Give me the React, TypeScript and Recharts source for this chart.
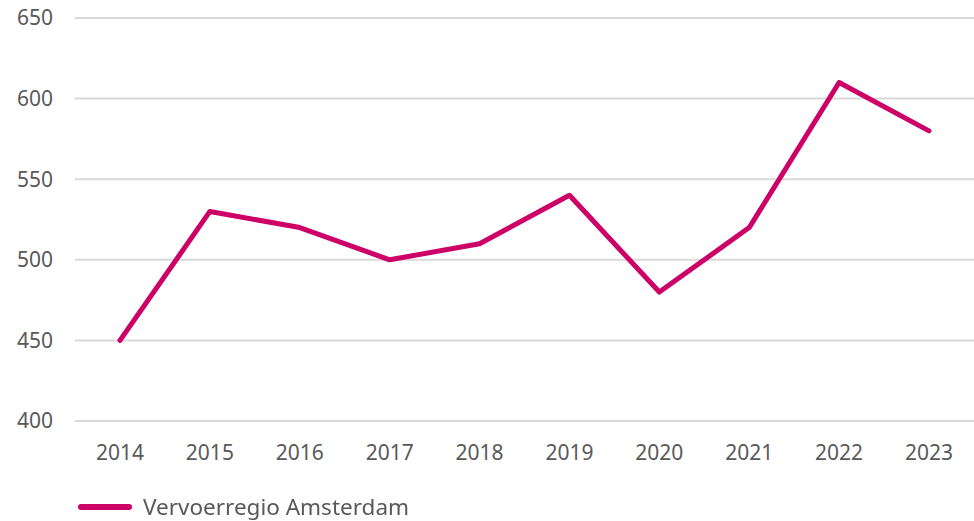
import { LineChart, Line, XAxis, YAxis, CartesianGrid, Legend } from 'recharts';

const years = ['2014', '2015', '2016', '2017', '2018', '2019', '2020', '2021', '2022', '2023'];
const amsterdam = [450, 530, 520, 500, 510, 540, 480, 520, 610, 580];
const yTicks = [400, 450, 500, 550, 600, 650];

const seriesName = 'Vervoerregio Amsterdam';
const lineColor = '#CC0066';
const textColor = '#595959';
const font = '"Noto Sans", "Open Sans", sans-serif';

const chartData = years.map((year, i) => ({ year, value: amsterdam[i] }));

// eigen legenda: lijnstuk + naam
const renderLegend = (props: any) => {
  const { payload } = props;
  return (
    <div style={{ display: 'flex', alignItems: 'center', paddingLeft: 78, marginTop: 10 }}>
      {payload.map((entry: any) => (
        <div key={entry.value} style={{ display: 'flex', alignItems: 'center' }}>
          <svg width={54} height={8} style={{ marginRight: 11 }}>
            <line x1={3} y1={4} x2={51} y2={4} stroke={entry.color} strokeWidth={6} strokeLinecap="round" />
          </svg>
          <span style={{ color: textColor, fontSize: 22.5, fontFamily: font }}>{entry.value}</span>
        </div>
      ))}
    </div>
  );
};

export default function App() {
  return (
    <div style={{ position: 'fixed', left: 0, top: 0, width: 974, height: 521, background: '#fff' }}>
      <LineChart width={974} height={521} data={chartData} margin={{ top: 18, right: 0, bottom: 0, left: 0 }}>
        <CartesianGrid vertical={false} stroke="#d9d9d9" strokeWidth={2} />
        <XAxis
          dataKey="year"
          axisLine={false}
          tickLine={false}
          padding={{ left: 45, right: 45 }}
          tickMargin={18}
          height={60}
          tick={{ fill: textColor, fontSize: 21, fontFamily: font }}
        />
        <YAxis
          domain={[400, 650]}
          ticks={yTicks}
          axisLine={false}
          tickLine={false}
          width={75}
          tickMargin={16}
          tick={{ fill: textColor, fontSize: 21, fontFamily: font }}
        />
        <Legend verticalAlign="bottom" align="left" height={40} content={renderLegend} />
        <Line
          type="linear"
          dataKey="value"
          name={seriesName}
          stroke={lineColor}
          strokeWidth={5}
          strokeLinejoin="round"
          strokeLinecap="round"
          dot={false}
          isAnimationActive={false}
        />
      </LineChart>
    </div>
  );
}
